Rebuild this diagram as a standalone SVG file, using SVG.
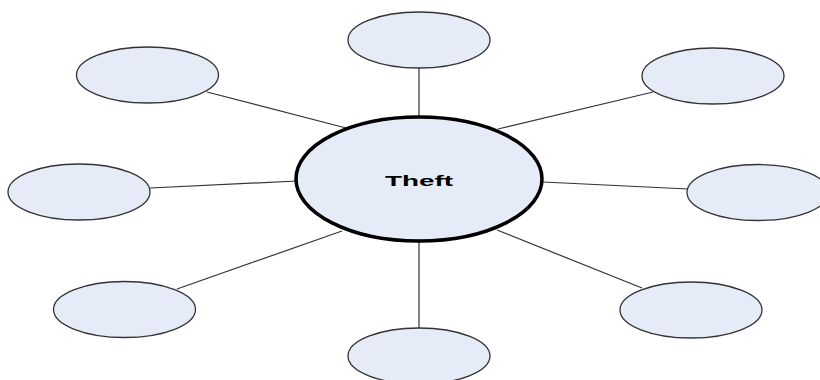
<svg xmlns="http://www.w3.org/2000/svg" width="820" height="380" viewBox="0 0 820 380">
  <style>
    .sat { fill: #e6ecf7; stroke: #333333; stroke-width: 1.3; }
    .hub { fill: #e6ecf7; stroke: #000000; stroke-width: 3.5; }
    .conn { stroke: #333333; stroke-width: 1.2; fill: none; }
    .lbl { font-family: "Liberation Sans", Arial, sans-serif; font-weight: bold; font-size: 15px; fill: #000000; }
  </style>
  <rect width="820" height="380" fill="#ffffff"/>
  <g id="connectors">
    <line class="conn" x1="419" y1="68" x2="419" y2="117"/>
    <line class="conn" x1="207" y1="92" x2="346" y2="128"/>
    <line class="conn" x1="498" y1="129" x2="653" y2="92"/>
    <line class="conn" x1="150" y1="188" x2="297" y2="181"/>
    <line class="conn" x1="543" y1="182" x2="688" y2="189"/>
    <line class="conn" x1="177" y1="289" x2="342" y2="231"/>
    <line class="conn" x1="497" y1="230" x2="642" y2="288"/>
    <line class="conn" x1="419" y1="242" x2="419" y2="328"/>
  </g>
  <g id="node-top"><ellipse class="sat" cx="419" cy="40" rx="71" ry="28"/></g>
  <g id="node-top-left"><ellipse class="sat" cx="147.5" cy="75" rx="71" ry="28"/></g>
  <g id="node-top-right"><ellipse class="sat" cx="713" cy="76" rx="71" ry="28"/></g>
  <g id="node-left"><ellipse class="sat" cx="79" cy="192" rx="71" ry="28"/></g>
  <g id="node-right"><ellipse class="sat" cx="758" cy="192.5" rx="71" ry="28"/></g>
  <g id="node-bottom-left"><ellipse class="sat" cx="124.5" cy="309.5" rx="71" ry="28"/></g>
  <g id="node-bottom-right"><ellipse class="sat" cx="691" cy="310" rx="71" ry="28"/></g>
  <g id="node-bottom"><ellipse class="sat" cx="419" cy="356" rx="71" ry="28"/></g>
  <g id="node-theft">
    <ellipse class="hub" cx="419" cy="179" rx="123" ry="62"/>
    <text class="lbl" x="385" y="186" textLength="68" lengthAdjust="spacingAndGlyphs">Theft</text>
  </g>
</svg>
